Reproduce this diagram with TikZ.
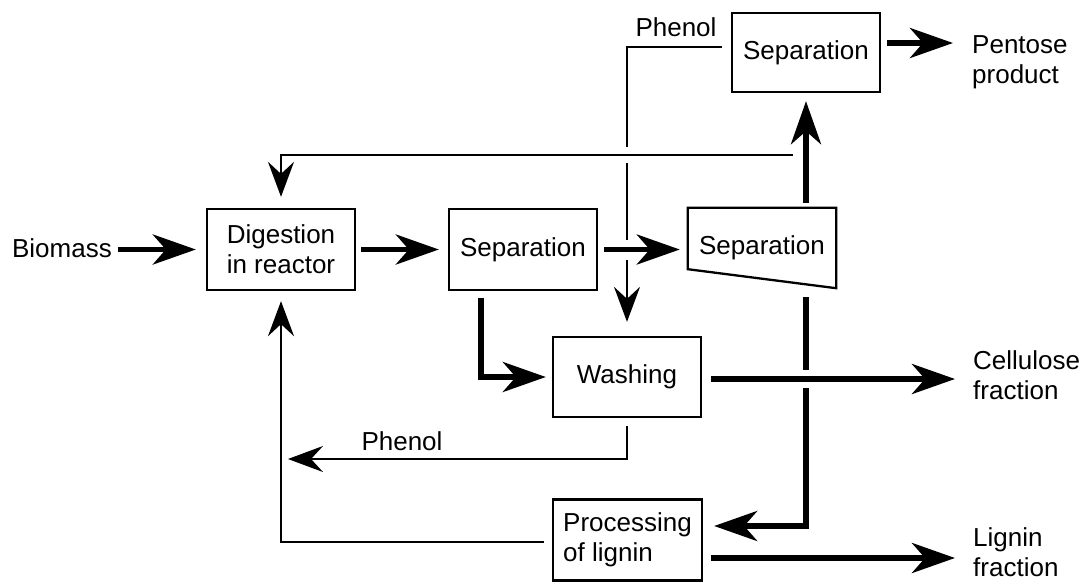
\documentclass[tikz,border=0pt]{standalone}
\usepackage{fontspec}
\setmainfont{Liberation Sans}
\usetikzlibrary{arrows.meta,calc}
\newcommand\diafont{\fontsize{26}{30}\selectfont}
\begin{document}
\begin{tikzpicture}[x=1pt,y=-1pt,
  box/.style={draw, line width=2.3pt, minimum width=148pt, minimum height=81pt,
              inner sep=0pt, font=\diafont, align=left},
  lbl/.style={inner sep=0pt, font=\diafont, align=left},
  flowthin/.style={line width=2pt, -{Stealth[length=35pt,width=26pt,inset=12pt]}},
  flowthick/.style={line width=5.7pt, -{Stealth[length=43pt,width=30pt,inset=13pt]}},
  halo/.style={preaction={draw=white, line width=#1, arrows=-}}
]
\useasboundingbox (0,0) rectangle (1082,582);

% process units
\node[box] (dig)  at (281,249.5) {Digestion\\in reactor};
\node[box] (sepA) at (523,249.5) {Separation};
\node[lbl, minimum width=148pt, minimum height=80pt] (sepB) at (762,248) {Separation};
\draw[line width=2.3pt, line join=miter]
  (sepB.north west) -- (sepB.north east) -- (sepB.south east)
  -- ($(sepB.south west)+(0,-19)$) -- cycle;
\node[box, minimum height=80pt] (wash) at (627,377) {Washing};
\node[box, minimum width=149pt] (proc) at (627.5,540) {Processing\\of lignin};
\node[box, minimum height=79pt] (sepT) at (806,52.5) {Separation};

% stream labels (base anchor sits on the last line)
\node[lbl, anchor=east] (bio) at (112,248) {Biomass};
\node[lbl, anchor=base west] (pent) at (972,83) {Pentose\\product};
\node[lbl, anchor=base west] (cell) at (973,399) {Cellulose\\fraction};
\node[lbl, anchor=base west] (lig) at (973,576) {Lignin\\fraction};
\node[lbl] (phA) at (676,27) {Phenol};
\node[lbl] (phB) at (402,441) {Phenol};
\coordinate (rc) at (793,155);
\coordinate (phEnd) at (288,459);

% phenol from the pentose separation down to washing
\draw[flowthin, shorten <=9pt, shorten >=14pt]
  ([yshift=5.5pt]sepT.west) -| (wash.north);

% lignin-rich stream down to lignin processing
\draw[flowthick, shorten <=9pt, shorten >=11pt]
  (sepT.south |- sepB.south) |- ([yshift=14pt]proc.east);

% recycle to the reactor
\draw[flowthin, halo=16pt, shorten >=11pt] (rc) -| (dig.north);

% main line
\draw[flowthick, shorten <=6pt, shorten >=10pt] (bio.east |- dig.west) -- (dig.west);
\draw[flowthick, shorten <=5pt, shorten >=9pt] (dig.east) -- (sepA.west);
\draw[flowthick, halo=20pt, shorten <=6pt, shorten >=8pt]
  (sepA.east) -- (sepA.east -| sepB.west);
\draw[flowthick, shorten <=5pt, shorten >=8pt] (sepT.south |- sepB.north) -- (sepT.south);
\draw[flowthick, shorten <=6pt, shorten >=19pt]
  ([yshift=9.5pt]sepT.east) -- ([yshift=9.5pt]sepT.east -| pent.west);
\draw[flowthick, shorten <=7pt, shorten >=6pt]
  ([xshift=-42pt]sepA.south) |- (wash.west);
\draw[flowthick, halo=18pt, shorten <=9pt, shorten >=18pt]
  ([yshift=-2pt]wash.east) -- ([yshift=-2pt]wash.east -| cell.west);
\draw[flowthick, shorten <=8pt, shorten >=18pt]
  ([yshift=-18pt]proc.east) -- ([yshift=-18pt]proc.east -| lig.west);

% phenol returns
\draw[flowthin, shorten <=8pt] (wash.south) |- (phEnd);
\draw[flowthin, shorten <=8pt, shorten >=10pt] ([yshift=-2pt]proc.west) -| (dig.south);
\end{tikzpicture}
\end{document}
